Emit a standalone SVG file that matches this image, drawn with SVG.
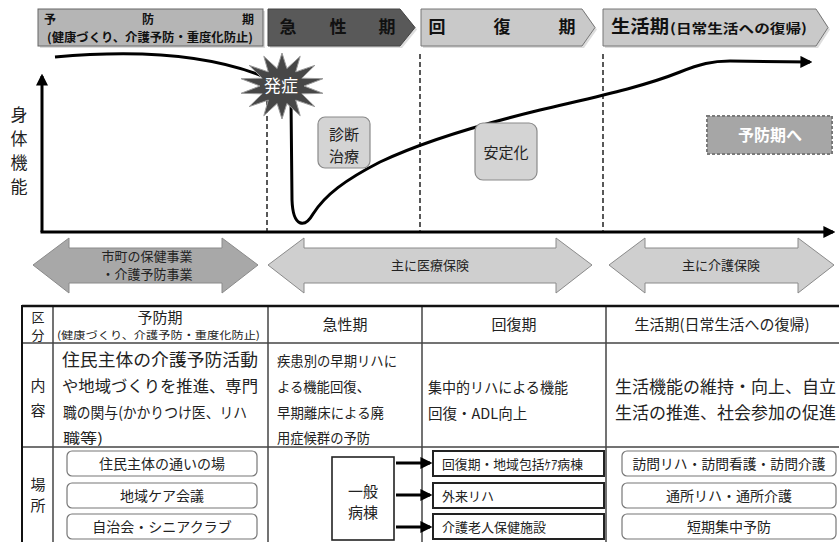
<svg xmlns="http://www.w3.org/2000/svg" width="839" height="542" viewBox="0 0 839 542">
<style>
text{font-family:"Noto Sans CJK JP","Noto Sans",sans-serif;fill:#222}
.hb{font-weight:bold;fill:#111}
.m{text-anchor:middle}
.ax{stroke:#000;stroke-width:3;fill:none}
.dash{stroke:#222;stroke-width:1.5;stroke-dasharray:5 3}
.ba{stroke:#8a8a8a;stroke-width:1}
.tl{stroke:#444;stroke-width:1.5}
.rb{fill:#fff;stroke:#777;stroke-width:1.2}
.sb{fill:#fff;stroke:#222;stroke-width:2}
.gb{fill:#d4d4d4;stroke:#8a8a8a;stroke-width:1.2}
</style>
<defs>
<marker id="ah" viewBox="0 0 10 10" refX="8" refY="5" markerWidth="4" markerHeight="4" orient="auto" markerUnits="strokeWidth"><path d="M0,0L10,5L0,10z" fill="#000"/></marker>
</defs>

<g id="phase-prevent">
<rect x="40" y="11" width="225" height="37" fill="#ddd"/>
<rect x="38" y="9" width="225" height="37" fill="#b5b5b5" stroke="#666"/>
<text class="hb m" x="50" y="24" font-size="12">予</text>
<text class="hb m" x="148" y="24" font-size="12">防</text>
<text class="hb m" x="248" y="24" font-size="12">期</text>
<text class="hb" x="47" y="42" font-size="12" textLength="206" lengthAdjust="spacingAndGlyphs">(健康づくり、介護予防・重度化防止)</text>
</g>
<g id="phase-acute">
<polygon points="270,11 402,11 417,29.5 402,48 270,48" fill="#ddd"/>
<polygon points="268,9 400,9 415,27.5 400,46 268,46" fill="#595959" stroke="#444"/>
<text class="hb m" x="288" y="33" font-size="17">急</text>
<text class="hb m" x="338" y="33" font-size="17">性</text>
<text class="hb m" x="387" y="33" font-size="17">期</text>
</g>
<g id="phase-recovery">
<polygon points="423,11 584,11 597,29.5 584,48 423,48" fill="#ddd"/>
<polygon points="421,9 582,9 595,27.5 582,46 421,46" fill="#c9c9c9" stroke="#777"/>
<text class="hb m" x="437" y="33" font-size="17">回</text>
<text class="hb m" x="502" y="33" font-size="17">復</text>
<text class="hb m" x="567" y="33" font-size="17">期</text>
</g>
<g id="phase-life">
<polygon points="605,11 818,11 830,29.5 818,48 605,48" fill="#ddd"/>
<polygon points="603,9 816,9 828,27.5 816,46 603,46" fill="#c9c9c9" stroke="#777"/>
<text class="hb" x="611" y="33" font-size="18" textLength="58" lengthAdjust="spacingAndGlyphs">生活期</text>
<text class="hb" x="670" y="33" font-size="13" textLength="137" lengthAdjust="spacingAndGlyphs">(日常生活への復帰)</text>
</g>

<g id="axes">
<line class="ax" x1="42" y1="232" x2="42" y2="76" marker-end="url(#ah)"/>
<line class="ax" x1="40.5" y1="232" x2="833" y2="232" marker-end="url(#ah)"/>
<text class="m" x="19" y="121" font-size="17">身</text>
<text class="m" x="19" y="145" font-size="17">体</text>
<text class="m" x="19" y="169" font-size="17">機</text>
<text class="m" x="19" y="193" font-size="17">能</text>
</g>

<g id="connectors">
<line class="dash" x1="267" y1="100" x2="267" y2="231"/>
<line class="dash" x1="420" y1="54" x2="420" y2="231"/>
<line class="dash" x1="603" y1="54" x2="603" y2="231"/>
<path d="M55 57 C120 51 205 50 272 80" fill="none" stroke="#000" stroke-width="3"/>
<path d="M291 100 L292 200 C293 228 305 228 313 214 C325 195 345 180 380 162 C420 143 470 127 540 110 C590 98 640 88 680 72 C700 64 712 61 730 61 L810 62" fill="none" stroke="#000" stroke-width="3" marker-end="url(#ah)"/>
</g>

<g id="onset">
<polygon points="282,53 286.9,68.5 300.2,56.3 295.7,71.9 314.8,65.4 301.8,78.2 322.9,78.7 304,86 322.9,93.3 301.8,93.8 314.8,106.6 295.7,100.1 300.2,115.7 286.9,103.5 282,119 277.1,103.5 263.8,115.7 268.3,100.1 249.2,106.6 262.2,93.8 241.1,93.3 260,86 241.1,78.7 262.2,78.2 249.2,65.4 268.3,71.9 263.8,56.3 277.1,68.5" fill="#474747" stroke="#9a9a9a" stroke-width="1"/>
<text class="m" x="281" y="92" font-size="17" style="fill:#fff">発症</text>
</g>

<g id="diag">
<rect class="gb" x="318" y="117" width="52" height="51" rx="7"/>
<text class="m" x="344" y="140" font-size="15">診断</text>
<text class="m" x="344" y="162" font-size="15">治療</text>
</g>
<g id="stable">
<rect class="gb" x="475" y="123" width="62" height="57" rx="8"/>
<text class="m" x="506" y="158" font-size="15">安定化</text>
</g>
<g id="to-prevent">
<rect x="707" y="116" width="125" height="38" fill="#a6a6a6" stroke="#7a7a7a" stroke-width="2" stroke-dasharray="3 2"/>
<text class="m" x="770" y="141" font-size="16" font-weight="bold" style="fill:#fff">予防期へ</text>
</g>

<g id="ins-municipal">
<polygon class="ba" points="33,265 69,238 69,248 222,248 222,238 258,265 222,293 222,283 69,283 69,293" fill="#a8a8a8"/>
<text class="m" x="147" y="261" font-size="13">市町の保健事業</text>
<text class="m" x="147" y="279" font-size="13">・介護予防事業</text>
</g>
<g id="ins-medical">
<polygon class="ba" points="268,265 304,238 304,248 556,248 556,238 592,265 556,293 556,283 304,283 304,293" fill="#cfcfcf"/>
<text class="m" x="430" y="270" font-size="13">主に医療保険</text>
</g>
<g id="ins-care">
<polygon class="ba" points="609,265 645,238 645,248 798,248 798,238 834,265 798,293 798,283 645,283 645,293" fill="#cfcfcf"/>
<text class="m" x="721" y="270" font-size="13">主に介護保険</text>
</g>

<g id="table">
<line class="tl" x1="53" y1="306" x2="53" y2="542"/>
<line class="tl" x1="268" y1="306" x2="268" y2="542"/>
<line class="tl" x1="422" y1="306" x2="422" y2="542"/>
<line class="tl" x1="606" y1="306" x2="606" y2="542"/>
<line class="tl" x1="22" y1="343" x2="839" y2="343"/>
<line class="tl" x1="22" y1="447" x2="839" y2="447"/>
<line x1="22" y1="306" x2="839" y2="306" stroke="#111" stroke-width="2.5"/>
<line x1="22" y1="305" x2="22" y2="542" stroke="#111" stroke-width="2"/>

<text class="m" x="38" y="322" font-size="13">区</text>
<text class="m" x="38" y="340" font-size="13">分</text>
<text class="m" x="160" y="323" font-size="15">予防期</text>
<text x="57" y="339" font-size="10.5" textLength="203" lengthAdjust="spacingAndGlyphs">(健康づくり、介護予防・重度化防止)</text>
<text class="m" x="345" y="330" font-size="15">急性期</text>
<text class="m" x="514" y="330" font-size="15">回復期</text>
<text class="m" x="722" y="330" font-size="15">生活期(日常生活への復帰)</text>

<text class="m" x="38" y="391" font-size="15">内</text>
<text class="m" x="38" y="416" font-size="15">容</text>
<text x="62" y="366" font-size="17" textLength="196" lengthAdjust="spacingAndGlyphs">住民主体の介護予防活動</text>
<text x="62" y="392" font-size="16" textLength="196" lengthAdjust="spacingAndGlyphs">や地域づくりを推進、専門</text>
<text x="63" y="418" font-size="15" textLength="184" lengthAdjust="spacingAndGlyphs">職の関与(かかりつけ医、リハ</text>
<text x="63" y="443" font-size="14" textLength="40" lengthAdjust="spacingAndGlyphs">職等)</text>
<text x="277" y="366" font-size="14" textLength="120" lengthAdjust="spacingAndGlyphs">疾患別の早期リハに</text>
<text x="277" y="392" font-size="14" textLength="93" lengthAdjust="spacingAndGlyphs">よる機能回復、</text>
<text x="277" y="418" font-size="14" textLength="107" lengthAdjust="spacingAndGlyphs">早期離床による廃</text>
<text x="277" y="443" font-size="14" textLength="93" lengthAdjust="spacingAndGlyphs">用症候群の予防</text>
<text x="428" y="393" font-size="14.5" textLength="140" lengthAdjust="spacingAndGlyphs">集中的リハによる機能</text>
<text x="428" y="419" font-size="14.5">回復・ADL向上</text>
<text x="615" y="393" font-size="16.5" textLength="221" lengthAdjust="spacingAndGlyphs">生活機能の維持・向上、自立</text>
<text x="615" y="419" font-size="16.5" textLength="221" lengthAdjust="spacingAndGlyphs">生活の推進、社会参加の促進</text>

<text class="m" x="38" y="490" font-size="15">場</text>
<text class="m" x="38" y="511" font-size="15">所</text>
</g>

<g id="place-prevent">
<rect class="rb" x="67" y="451" width="190" height="25" rx="5"/>
<text class="m" x="162" y="468.5" font-size="14">住民主体の通いの場</text>
<rect class="rb" x="67" y="483" width="190" height="25" rx="5"/>
<text class="m" x="162" y="500.5" font-size="14">地域ケア会議</text>
<rect class="rb" x="67" y="514" width="190" height="25" rx="5"/>
<text class="m" x="162" y="531.5" font-size="14">自治会・シニアクラブ</text>
</g>
<g id="general-ward">
<rect x="332" y="457" width="62" height="83" fill="#fff" stroke="#222" stroke-width="1.6"/>
<text class="m" x="363" y="497" font-size="15">一般</text>
<text class="m" x="363" y="518" font-size="15">病棟</text>
</g>
<g id="ward-arrows">
<line x1="396" y1="463" x2="430" y2="463" stroke="#000" stroke-width="3" marker-end="url(#ah)"/>
<line x1="396" y1="495" x2="430" y2="495" stroke="#000" stroke-width="3" marker-end="url(#ah)"/>
<line x1="396" y1="527" x2="430" y2="527" stroke="#000" stroke-width="3" marker-end="url(#ah)"/>
</g>
<g id="place-recovery">
<rect class="sb" x="433" y="451" width="171" height="25"/>
<text x="442" y="468.5" font-size="13" textLength="141" lengthAdjust="spacingAndGlyphs">回復期・地域包括ｹｱ病棟</text>
<rect class="sb" x="433" y="483" width="171" height="25"/>
<text x="442" y="500.5" font-size="13">外来リハ</text>
<rect class="sb" x="433" y="514" width="171" height="25"/>
<text x="442" y="531.5" font-size="13">介護老人保健施設</text>
</g>
<g id="place-life">
<rect class="rb" x="622" y="451" width="214" height="25" rx="5"/>
<text class="m" x="729" y="468.5" font-size="14" textLength="193" lengthAdjust="spacingAndGlyphs">訪問リハ・訪問看護・訪問介護</text>
<rect class="rb" x="622" y="483" width="214" height="25" rx="5"/>
<text class="m" x="729" y="500.5" font-size="14">通所リハ・通所介護</text>
<rect class="rb" x="622" y="514" width="214" height="25" rx="5"/>
<text class="m" x="729" y="531.5" font-size="14">短期集中予防</text>
</g>
</svg>
